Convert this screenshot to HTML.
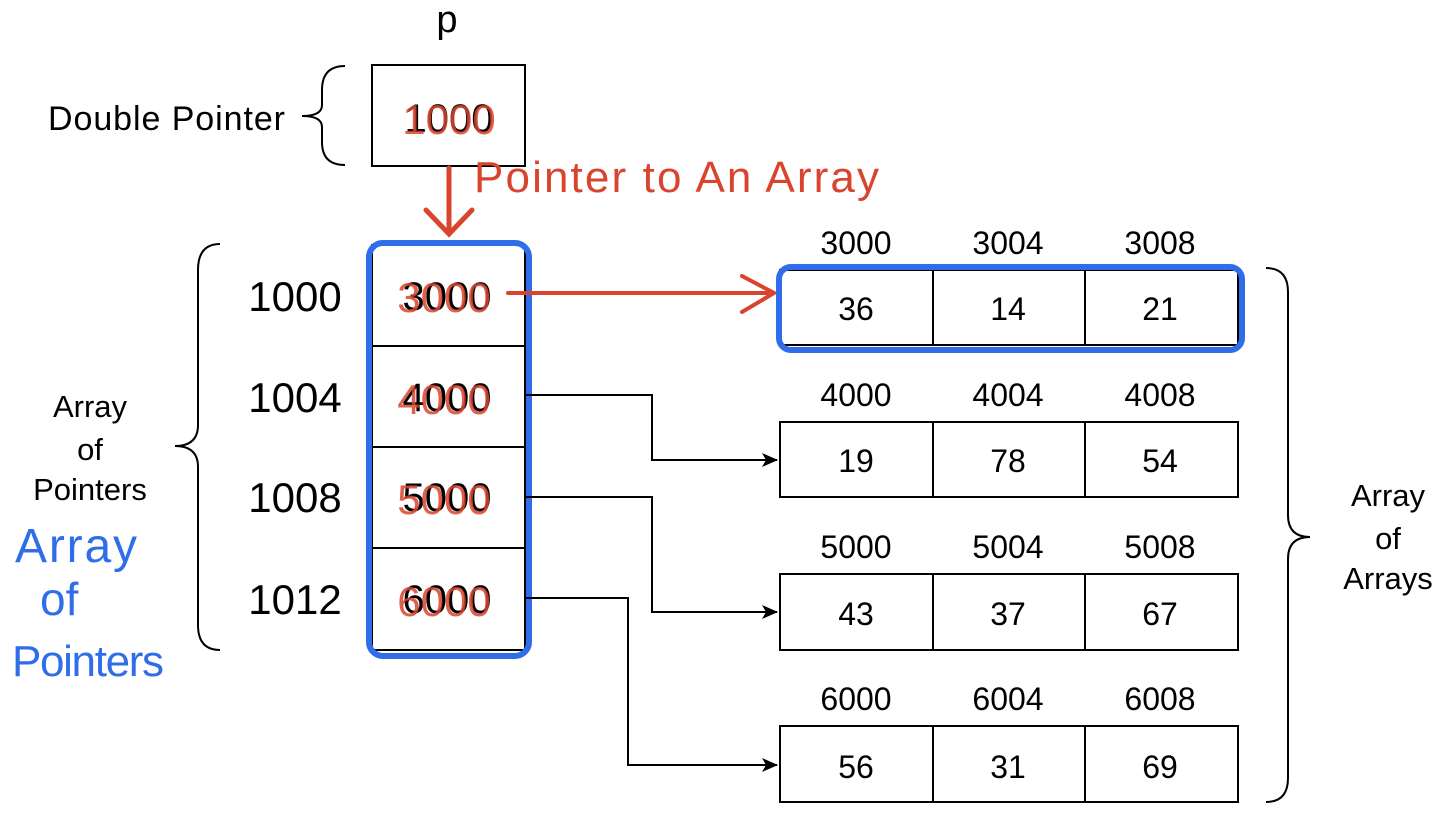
<!DOCTYPE html>
<html><head><meta charset="utf-8"><style>
html,body{margin:0;padding:0;background:#fff;}
svg{display:block;}
text{font-family:"Liberation Sans",Arial,sans-serif;}
.hand{font-family:"Liberation Sans Narrow","Liberation Sans",sans-serif;font-weight:300;}
</style></head><body>
<svg width="1446" height="818" viewBox="0 0 1446 818" xmlns="http://www.w3.org/2000/svg">
<defs>
<marker id="ab" markerWidth="16" markerHeight="14" refX="15" refY="7" orient="auto" markerUnits="userSpaceOnUse"><path d="M0,0 L16,7 L0,14 L4,7 Z" fill="#000"/></marker>
</defs>
<text x="447" y="32" font-size="38" text-anchor="middle">p</text>
<text x="48" y="130" font-size="34" textLength="237">Double Pointer</text>
<path d="M345,66 Q322,66 322,90 L322,105 Q322,116 302,116 Q322,116 322,127 L322,142 Q322,165 345,165" fill="none" stroke="#000" stroke-width="2"/>
<rect x="372" y="65" width="153" height="101" fill="#fff" stroke="#000" stroke-width="2"/>
<text x="449" y="132" font-size="40" text-anchor="middle">1000</text>
<text x="449" y="134" font-size="42" text-anchor="middle" fill="#d9442e" fill-opacity="0.85" class="hand">1000</text>
<path d="M449,168 L449,232 M426,210 L449,234 L472,210" fill="none" stroke="#d9442e" stroke-width="5" stroke-linecap="round"/>
<text x="474" y="192" font-size="44" fill="#d9442e" class="hand" textLength="405">Pointer to An Array</text>
<path d="M220,244 Q198,244 198,270 L198,425 Q198,446 175,446 Q198,446 198,467 L198,625 Q198,650 220,650" fill="none" stroke="#000" stroke-width="2"/>
<g font-size="31" text-anchor="middle">
<text x="90" y="417">Array</text><text x="90" y="460">of</text><text x="90" y="500">Pointers</text>
</g>
<g class="hand" fill="#2f6ee8">
<text x="15" y="562" font-size="48" textLength="122">Array</text><text x="40" y="615" font-size="46">of</text><text x="12" y="676" font-size="44" textLength="152">Pointers</text>
</g>
<g font-size="42">
<rect x="372" y="245" width="153" height="405" fill="none" stroke="#000" stroke-width="2"/>
<line x1="372" y1="346" x2="525" y2="346" stroke="#000" stroke-width="2"/>
<line x1="372" y1="447" x2="525" y2="447" stroke="#000" stroke-width="2"/>
<line x1="372" y1="548" x2="525" y2="548" stroke="#000" stroke-width="2"/>
<text x="295" y="311" text-anchor="middle">1000</text>
<text x="295" y="412" text-anchor="middle">1004</text>
<text x="295" y="512" text-anchor="middle">1008</text>
<text x="295" y="614" text-anchor="middle">1012</text>
<text x="447" y="310" text-anchor="middle" font-size="40">3000</text>
<text x="447" y="411" text-anchor="middle" font-size="40">4000</text>
<text x="447" y="511" text-anchor="middle" font-size="40">5000</text>
<text x="447" y="613" text-anchor="middle" font-size="40">6000</text>
</g>
<g class="hand" fill="#d9442e" fill-opacity="0.85" font-size="42" text-anchor="middle">
<text x="444" y="312">3000</text><text x="444" y="414">4000</text><text x="444" y="514">5000</text><text x="444" y="616">6000</text>
</g>
<rect x="369" y="243" width="160" height="413" rx="14" fill="none" stroke="#2f6ee8" stroke-width="6"/>
<path d="M508,293 L772,293 M742,276 L774,293 L742,312" fill="none" stroke="#d9442e" stroke-width="4" stroke-linecap="round"/>
<g fill="none" stroke="#000" stroke-width="2">
<path d="M525,395 L652,395 L652,460 L777,460" marker-end="url(#ab)"/>
<path d="M525,497 L652,497 L652,612 L777,612" marker-end="url(#ab)"/>
<path d="M525,598 L628,598 L628,765 L777,765" marker-end="url(#ab)"/>
</g>
<g font-size="32" text-anchor="middle">
<g><text x="856" y="254">3000</text><text x="1008" y="254">3004</text><text x="1160" y="254">3008</text>
<rect x="780" y="270" width="458" height="75" fill="none" stroke="#000" stroke-width="2"/><line x1="933" y1="270" x2="933" y2="345" stroke="#000" stroke-width="2"/><line x1="1085" y1="270" x2="1085" y2="345" stroke="#000" stroke-width="2"/>
<text x="856" y="320">36</text><text x="1008" y="320">14</text><text x="1160" y="320">21</text></g>
<g><text x="856" y="406">4000</text><text x="1008" y="406">4004</text><text x="1160" y="406">4008</text>
<rect x="780" y="422" width="458" height="75" fill="none" stroke="#000" stroke-width="2"/><line x1="933" y1="422" x2="933" y2="497" stroke="#000" stroke-width="2"/><line x1="1085" y1="422" x2="1085" y2="497" stroke="#000" stroke-width="2"/>
<text x="856" y="472">19</text><text x="1008" y="472">78</text><text x="1160" y="472">54</text></g>
<g><text x="856" y="558">5000</text><text x="1008" y="558">5004</text><text x="1160" y="558">5008</text>
<rect x="780" y="574" width="458" height="76" fill="none" stroke="#000" stroke-width="2"/><line x1="933" y1="574" x2="933" y2="650" stroke="#000" stroke-width="2"/><line x1="1085" y1="574" x2="1085" y2="650" stroke="#000" stroke-width="2"/>
<text x="856" y="625">43</text><text x="1008" y="625">37</text><text x="1160" y="625">67</text></g>
<g><text x="856" y="710">6000</text><text x="1008" y="710">6004</text><text x="1160" y="710">6008</text>
<rect x="780" y="726" width="458" height="76" fill="none" stroke="#000" stroke-width="2"/><line x1="933" y1="726" x2="933" y2="802" stroke="#000" stroke-width="2"/><line x1="1085" y1="726" x2="1085" y2="802" stroke="#000" stroke-width="2"/>
<text x="856" y="778">56</text><text x="1008" y="778">31</text><text x="1160" y="778">69</text></g>
</g>
<rect x="779" y="267" width="463" height="83" rx="12" fill="none" stroke="#2f6ee8" stroke-width="6"/>
<path d="M1266,268 Q1288,268 1288,292 L1288,515 Q1288,537 1310,537 Q1288,537 1288,559 L1288,778 Q1288,802 1266,802" fill="none" stroke="#000" stroke-width="2"/>
<g font-size="31" text-anchor="middle">
<text x="1388" y="506">Array</text><text x="1388" y="549">of</text><text x="1388" y="589">Arrays</text>
</g>
</svg>
</body></html>
